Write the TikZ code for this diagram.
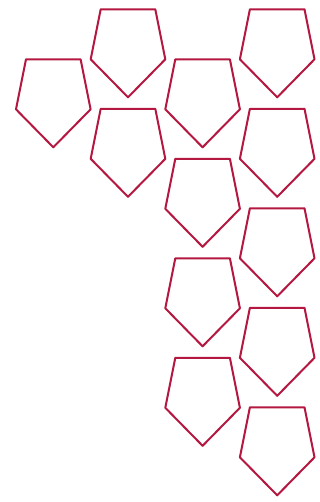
\documentclass[tikz,border=0pt]{standalone}
\definecolor{shieldred}{RGB}{180,24,64}
\tikzset{
  shieldline/.style={draw=shieldred, line width=2pt, line join=round, fill=white},
  shield/.pic={\path[shieldline] (-27.3,0) -- (27.3,0) -- (37.3,50) -- (0,88) -- (-37.3,50) -- cycle;}
}
\begin{document}
\begin{tikzpicture}[x=1pt,y=-1pt]
\useasboundingbox (0,0) rectangle (320,502);
\pic at (53.3,59.3) {shield};
\pic at (128,9.3) {shield};
\pic at (128,108.8) {shield};
\foreach \t in {59.3,158.8,258.3,357.8} {\pic at (202.6,\t) {shield};}
\foreach \t in {9.3,108.8,208.3,307.8,407.3} {\pic at (277.2,\t) {shield};}
\end{tikzpicture}
\end{document}
